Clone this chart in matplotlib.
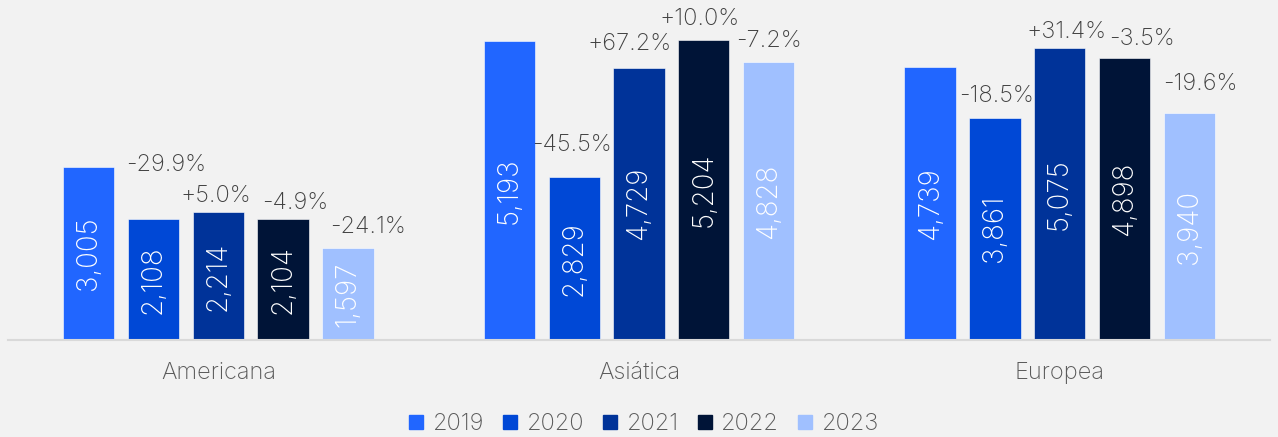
import matplotlib
matplotlib.use("Agg")
import matplotlib.pyplot as plt
from matplotlib.lines import Line2D
import numpy as np

plt.rcParams['font.family'] = ['Inter', 'DejaVu Sans']
plt.rcParams['font.weight'] = 'light'

categories = ["Americana", "Asiática", "Europea"]
years = ["2019", "2020", "2021", "2022", "2023"]
values = {
    "2019": [3005, 5193, 4739],
    "2020": [2108, 2829, 3861],
    "2021": [2214, 4729, 5075],
    "2022": [2104, 5204, 4898],
    "2023": [1597, 4828, 3940],
}
pct_labels = {
    "2020": ["-29.9%", "-45.5%", "-18.5%"],
    "2021": ["+5.0%", "+67.2%", "+31.4%"],
    "2022": ["-4.9%", "+10.0%", "-3.5%"],
    "2023": ["-24.1%", "-7.2%", "-19.6%"],
}
colors = ["#2166FF", "#0048D6", "#003399", "#001437", "#A0C0FF"]

# label placement offsets (pixels): (dx, dy above bar top)
pct_offsets = {
    "2020": [(13, 48), (-2, 26), (2, 16)],
    "2021": [(-3, 10), (-9, 18), (7, 10)],
    "2022": [(12, 10), (-4, 15), (17, 13)],
    "2023": [(20, 15), (0, 15), (11, 23)],
}

W, H = 1278, 437
fig = plt.figure(figsize=(W / 100, H / 100), dpi=100, facecolor="#f2f2f2")
ax = fig.add_axes([8 / W, 97 / H, 1262 / W, 340 / H])
ax.set_facecolor("#f2f2f2")

x = np.arange(len(categories))
step = 0.154
width = 0.122
for i, (yr, col) in enumerate(zip(years, colors)):
    xs = x + (i - 2) * step
    ax.bar(xs, values[yr], width=width, color=col,
           edgecolor="#ffffff", linewidth=0.4, zorder=2)
    for j, (xi, v) in enumerate(zip(xs, values[yr])):
        ax.text(xi, v / 2, f"{v:,}", rotation=90, ha="center", va="center",
                color="white", fontsize=20, fontweight="light", zorder=3)
        if yr in pct_labels:
            dx, dy = pct_offsets[yr][j]
            ax.annotate(pct_labels[yr][j], (xi, v), xytext=(dx, dy),
                        textcoords="offset pixels", ha="center", va="baseline",
                        color="#404040", fontsize=17, fontweight="light")

ax.set_xlim(-0.5, 2.5)
ax.set_ylim(0, 5903)
ax.set_yticks([])
ax.set_xticks(x, categories)
ax.tick_params(axis="x", length=0, pad=16, labelsize=17, labelcolor="#595959")
for s in ["top", "right", "left"]:
    ax.spines[s].set_visible(False)
ax.spines["bottom"].set_color("#d9d9d9")
ax.spines["bottom"].set_linewidth(1.5)

handles = [Line2D([], [], marker="s", linestyle="none", markersize=10,
                  markerfacecolor=c, markeredgecolor=c) for c in colors]
fig.legend(handles, years, loc="lower center", bbox_to_anchor=(0.503, -0.045),
           ncol=5, frameon=False, fontsize=17, labelcolor="#595959",
           handlelength=0.8, handletextpad=0.3, columnspacing=0.7)

fig.savefig("out.png", dpi=100, facecolor="#f2f2f2")
